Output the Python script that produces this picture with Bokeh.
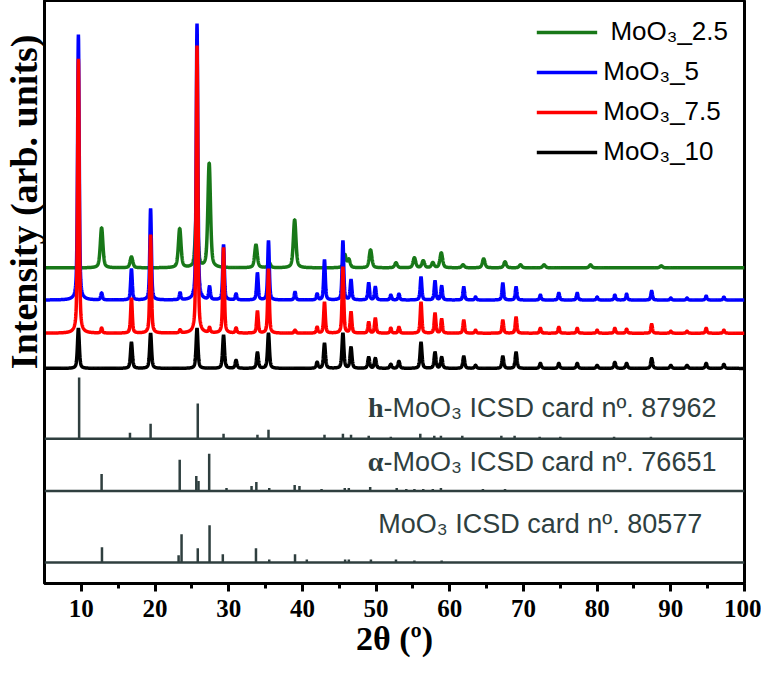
import numpy as np
from bokeh.plotting import figure
from bokeh.models import Range1d, Span, Label, Legend, LegendItem, FixedTicker, Title
from bokeh.embed import file_html
from bokeh.resources import INLINE

# ---------------- data ----------------
x_ticks = [10, 20, 30, 40, 50, 60, 70, 80, 90, 100]
x_minor = [15, 25, 35, 45, 55, 65, 75, 85, 95]

# experimental patterns: peak positions (2theta) and peak heights (arb.)
pos_h = [9.6, 16.8, 19.4, 25.7, 29.3, 31.0, 33.9, 35.4, 42.0, 43.0, 45.5, 46.6, 49.0, 49.9,
         52.0, 53.1, 56.1, 58.0, 58.9, 61.9, 63.5, 67.2, 69.0, 72.3, 74.8, 77.3, 80.0, 82.4,
         84.0, 87.4, 90.0, 92.2, 94.8, 97.2]
int_10 = [40, 26, 35, 40, 33, 8, 16, 35, 6, 25, 35, 21, 11, 10,
          4, 7, 26, 16, 11, 12, 3, 12, 16, 5, 5, 5, 3, 6,
          5, 10, 3, 3, 5, 4]
int_7_5 = [273, 35, 98, 286, 85, 5, 22, 64, 6, 31, 66, 21, 11, 15,
           5, 6, 31, 20, 14, 13, 3, 13, 16, 5, 6, 5, 3, 5,
           4, 9, 2, 2, 5, 3]
int_5 = [264, 31, 91, 275, 55, 6, 27, 59, 6, 40, 59, 20, 17, 13,
         5, 6, 23, 19, 14, 13, 3, 17, 13, 5, 7, 7, 3, 5,
         6, 9, 2, 2, 4, 3]
pos_h_extra = [12.75, 23.4, 27.4, 39.0]
int_7_5_extra = [5, 3, 5, 3]
int_5_extra = [7, 7, 13, 8]

pos_a = [12.75, 16.8, 23.35, 25.65, 27.35, 33.7, 35.5, 38.95, 45.75, 46.3, 49.25, 52.7,
         55.2, 56.4, 57.7, 58.85, 61.8, 64.6, 67.5, 69.6, 72.8, 79.1, 88.7]
int_2_5 = [40, 11, 39, 60, 104, 23, 5, 48, 13, 8, 18, 5,
           10, 7, 5, 15, 3, 9, 6, 3, 3, 3, 2]

# reference cards: stick positions and heights
card_87962_pos = [9.7, 16.6, 19.4, 25.8, 29.3, 33.9, 35.4, 43.0, 45.5, 46.6, 49.0, 52.0,
                  56.0, 57.9, 58.8, 61.7, 67.0, 68.8, 72.2, 75.0, 82.3, 87.3]
card_87962_int = [61, 6, 15, 35, 5, 4, 9, 4, 5, 4, 3, 2,
                  5, 3, 3, 3, 3, 3, 2, 2, 2, 2]
card_76651_pos = [12.75, 23.35, 25.6, 25.9, 27.35, 29.7, 33.1, 33.75, 35.5, 38.95, 39.6,
                  42.6, 45.75, 46.3, 49.2, 52.8, 54.1, 55.2, 56.4, 57.7, 58.8, 64.5, 67.5]
card_76651_int = [17, 31, 15, 10, 37, 3, 5, 9, 3, 6, 5,
                  2, 3, 3, 4, 3, 2, 2, 2, 2, 3, 2, 2]
card_80577_pos = [12.8, 23.2, 23.6, 25.8, 27.4, 29.2, 33.7, 35.5, 39.0, 40.6, 45.8, 46.3,
                  49.3, 52.7, 55.2, 58.9]
card_80577_int = [15, 7, 28, 14, 37, 8, 14, 3, 8, 3, 3, 3,
                  3, 3, 2, 2]

legend_labels = [" MoO\u2083_2.5", "MoO\u2083_5", "MoO\u2083_7.5", "MoO\u2083_10"]
card_prefix = ["h", "\u03b1", ""]
card_labels = ["-MoO\u2083 ICSD card n\u00ba. 87962",
               "-MoO\u2083 ICSD card n\u00ba. 76651",
               "MoO\u2083 ICSD card n\u00ba. 80577"]
y_title = "Intensity (arb. units)"
x_title = "2\u03b8 (\u00ba)"

# ---------------- layout / style ----------------
off_2_5, off_5, off_7_5, off_10 = 314, 282, 249, 214
off_c1, off_c2, off_c3 = 144, 92, 21
GREEN, BLUE, RED, BLACK = "#187818", "#0000ff", "#ff0000", "#000000"
CARD = "#2f3f3f"


def profile(x, pos, hts, fwhm, eta=0.5):
    y = np.zeros_like(x)
    for p0, h in zip(pos, hts):
        d = (x - p0) / (fwhm / 2.0)
        y += h * (eta / (1 + d * d) + (1 - eta) * np.exp(-np.log(2) * d * d))
    return y


x = np.arange(5.0, 100.0001, 0.02)
y10 = off_10 + profile(x, pos_h, int_10, 0.30)
y75 = off_7_5 + profile(x, pos_h + pos_h_extra, int_7_5 + int_7_5_extra, 0.26)
y5 = off_5 + profile(x, pos_h + pos_h_extra, int_5 + int_5_extra, 0.26)
y25 = off_2_5 + profile(x, pos_a, int_2_5, 0.42)

p = figure(width=761, height=659, output_backend="svg", toolbar_location=None,
           x_range=Range1d(5, 100), y_range=Range1d(0, 580),
           min_border_left=0, min_border_right=17, min_border_top=0, min_border_bottom=0)
p.xgrid.visible = False
p.ygrid.visible = False
p.outline_line_color = "black"
p.outline_line_width = 3
p.outline_line_alpha = 1

r25 = p.line(x, y25, line_color=GREEN, line_width=3.5)
r10 = p.line(x, y10, line_color=BLACK, line_width=3.5)
r5 = p.line(x, y5, line_color=BLUE, line_width=3.5)
r75 = p.line(x, y75, line_color=RED, line_width=3.5)

for base, pos, hts in [(off_c1, card_87962_pos, card_87962_int),
                       (off_c2, card_76651_pos, card_76651_int),
                       (off_c3, card_80577_pos, card_80577_int)]:
    p.add_layout(Span(location=base, dimension="width", line_color=CARD, line_width=2.5))
    p.segment(x0=pos, y0=[base] * len(pos), x1=pos, y1=[base + h for h in hts],
              line_color=CARD, line_width=2.5)

for pre, txt, xx, yy in [(card_prefix[0], card_labels[0], 51.0, off_c1 + 31),
                         (card_prefix[1], card_labels[1], 51.0, off_c2 + 29),
                         (card_prefix[2], card_labels[2], 50.3, off_c3 + 38)]:
    p.add_layout(Label(x=xx, y=yy, text=txt, text_align="left", text_baseline="middle",
                       text_font="Liberation Sans", text_font_size="27px", text_color=CARD))
    if pre:
        p.add_layout(Label(x=xx, y=yy, text=pre, text_align="right", text_baseline="middle",
                           text_font="Liberation Serif", text_font_style="bold",
                           text_font_size="28px", text_color=CARD))

# y title in the left panel, toward the top
ytitle = Title(text=y_title, align="right", offset=34, standoff=0,
               text_font="Liberation Serif", text_font_style="bold",
               text_font_size="38px", text_color="black")
p.add_layout(ytitle, "left")

legend = Legend(items=[LegendItem(label=legend_labels[0], renderers=[r25]),
                       LegendItem(label=legend_labels[1], renderers=[r5]),
                       LegendItem(label=legend_labels[2], renderers=[r75]),
                       LegendItem(label=legend_labels[3], renderers=[r10])],
                location="top_right")
legend.glyph_width = 61
legend.glyph_height = 30
legend.label_height = 30
legend.spacing = 9
legend.label_standoff = 6
legend.padding = 16
legend.margin = 0
legend.border_line_alpha = 0
legend.background_fill_alpha = 0
legend.label_text_font = "Liberation Sans"
legend.label_text_font_size = "26px"
legend.label_text_color = "black"
p.add_layout(legend)
for it in legend.items:
    it.renderers[0].glyph.line_width = 3.5

# x axis
xa = p.xaxis[0]
xa.ticker = FixedTicker(ticks=x_ticks, minor_ticks=x_minor)
xa.axis_line_width = 3
xa.major_tick_line_width = 3
xa.minor_tick_line_width = 3
xa.major_tick_out = 8
xa.major_tick_in = 0
xa.minor_tick_out = 5
xa.minor_tick_in = 0
xa.major_label_text_font = "Liberation Serif"
xa.major_label_text_font_style = "bold"
xa.major_label_text_font_size = "25px"
xa.major_label_text_color = "black"
xa.major_label_standoff = 8
xa.axis_label = x_title
xa.axis_label_text_font = "Liberation Serif"
xa.axis_label_text_font_style = "bold"
xa.axis_label_text_font_size = "34px"
xa.axis_label_text_color = "black"
xa.axis_label_standoff = 0

# y axis: frame line only
ya = p.yaxis[0]
ya.ticker = FixedTicker(ticks=[])
ya.major_tick_line_color = None
ya.minor_tick_line_color = None
ya.major_label_standoff = 0
ya.major_tick_out = 0
ya.major_tick_in = 0
ya.axis_line_width = 3

open("out.html", "w").write(file_html(p, INLINE))
